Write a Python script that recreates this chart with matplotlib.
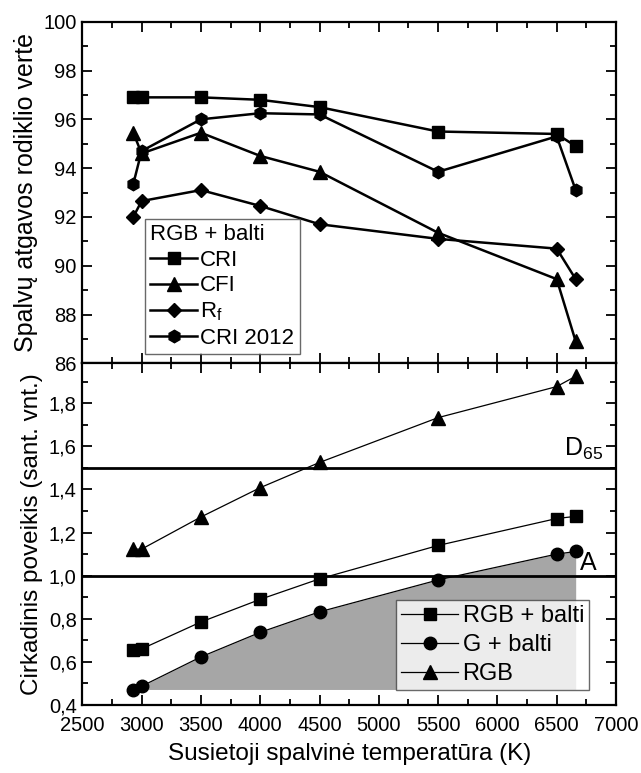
import matplotlib
matplotlib.use('Agg')
from matplotlib import pyplot as plt
from matplotlib.ticker import MultipleLocator, FuncFormatter

plt.rcParams['font.family'] = ['Liberation Sans', 'DejaVu Sans']

# color temperature points (K)
cct = [2930, 3000, 3500, 4000, 4500, 5500, 6500, 6660]

# top panel: colour rendering metrics, RGB + balti
cri = [96.9, 96.9, 96.9, 96.8, 96.5, 95.5, 95.4, 94.9]
cfi = [95.45, 94.6, 95.45, 94.5, 93.85, 91.35, 89.45, 86.9]
rf = [92.0, 92.65, 93.1, 92.45, 91.7, 91.1, 90.7, 89.45]
cri2012 = [93.35, 94.7, 96.0, 96.25, 96.2, 93.85, 95.3, 93.1]

# bottom panel: circadian effect
rgb_white = [0.655, 0.66, 0.785, 0.89, 0.985, 1.14, 1.265, 1.275]
g_white = [0.47, 0.487, 0.623, 0.737, 0.832, 0.98, 1.10, 1.112]
rgb = [1.123, 1.123, 1.272, 1.408, 1.525, 1.733, 1.877, 1.925]

d65_level = 1.5
a_level = 1.0
fill_base = 0.472

fig = plt.figure(figsize=(6.41, 7.73), dpi=100)
ax1 = fig.add_axes([0.1284, 0.530, 0.8326, 0.4419])
ax2 = fig.add_axes([0.1284, 0.088, 0.8326, 0.442])

mk = dict(color='black', markerfacecolor='black', markeredgecolor='black')

# ---------------------------------------------------------------- top
ax1.plot(cct, cri, marker='s', ms=8, lw=1.8, label='CRI', **mk)
ax1.plot(cct, cfi, marker='^', ms=9.5, lw=1.8, label='CFI', **mk)
ax1.plot(cct, rf, marker='D', ms=7.5, lw=1.8, label='R$_\\mathregular{f}$', **mk)
ax1.plot(cct, cri2012, marker='h', ms=9, lw=1.8, label='CRI 2012', **mk)

ax1.set_xlim(2500, 7000)
ax1.set_ylim(86, 100)
ax1.yaxis.set_major_locator(MultipleLocator(2))
ax1.yaxis.set_minor_locator(MultipleLocator(1))
ax1.xaxis.set_major_locator(MultipleLocator(500))
ax1.xaxis.set_minor_locator(MultipleLocator(250))
ax1.tick_params(labelbottom=False)
ax1.set_ylabel('Spalvų atgavos rodiklio vertė', fontsize=18)

leg1 = ax1.legend(loc='lower left', bbox_to_anchor=(0.117, 0.026), title='RGB + balti',
                  fontsize=16, title_fontsize=16, frameon=True, fancybox=False,
                  handlelength=2.1, handletextpad=0.15, borderpad=0.25,
                  labelspacing=0.2, borderaxespad=0)
leg1._legend_box.align = 'left'
leg1.get_frame().set_edgecolor('#444444')
leg1.get_frame().set_linewidth(1.0)

# ---------------------------------------------------------------- bottom
ax2.fill_between(cct[1:], fill_base, g_white[1:], color='#a6a6a6', lw=0, zorder=1)
ax2.axhline(d65_level, color='black', lw=2, zorder=2)
ax2.axhline(a_level, color='black', lw=2, zorder=2)
ax2.plot(cct, rgb_white, marker='s', ms=8, lw=0.9, label='RGB + balti', zorder=3, **mk)
ax2.plot(cct, g_white, marker='o', ms=9, lw=0.9, label='G + balti', zorder=3, **mk)
ax2.plot(cct, rgb, marker='^', ms=9.5, lw=0.9, label='RGB', zorder=3, **mk)

ax2.text(6890, 1.525, 'D$_\\mathregular{65}$', fontsize=18, ha='right', va='bottom')
ax2.text(6700, 1.005, 'A', fontsize=18, ha='left', va='bottom')

ax2.set_xlim(2500, 7000)
ax2.set_ylim(0.4, 1.985)
ax2.yaxis.set_major_locator(MultipleLocator(0.2))
ax2.yaxis.set_minor_locator(MultipleLocator(0.1))
ax2.xaxis.set_major_locator(MultipleLocator(500))
ax2.xaxis.set_minor_locator(MultipleLocator(250))
ax2.yaxis.set_major_formatter(FuncFormatter(lambda v, p: ('%.1f' % v).replace('.', ',')))
ax2.set_ylabel('Cirkadinis poveikis (sant. vnt.)', fontsize=17.5)
ax2.set_xlabel('Susietoji spalvinė temperatūra (K)', fontsize=17.5, labelpad=6)

leg2 = ax2.legend(loc='lower right', bbox_to_anchor=(0.949, 0.044), fontsize=17,
                  frameon=True, fancybox=False, handlelength=2.4, handletextpad=0.2,
                  borderpad=0.2, labelspacing=0.3, borderaxespad=0)
leg2.get_frame().set_edgecolor('#444444')
leg2.get_frame().set_linewidth(1.0)

for ax in (ax1, ax2):
    for s in ax.spines.values():
        s.set_linewidth(1.6)
    ax.tick_params(which='both', direction='in', top=True, right=True,
                   labelsize=14.5, width=1.3, pad=4)
    ax.tick_params(which='major', length=7)
    ax.tick_params(which='minor', length=4)

ax2.tick_params(axis='x', which='both', pad=8)
ax1.yaxis.labelpad = 4
ax2.yaxis.labelpad = 4
fig.align_ylabels([ax1, ax2])

fig.savefig('out.png', dpi=100)
